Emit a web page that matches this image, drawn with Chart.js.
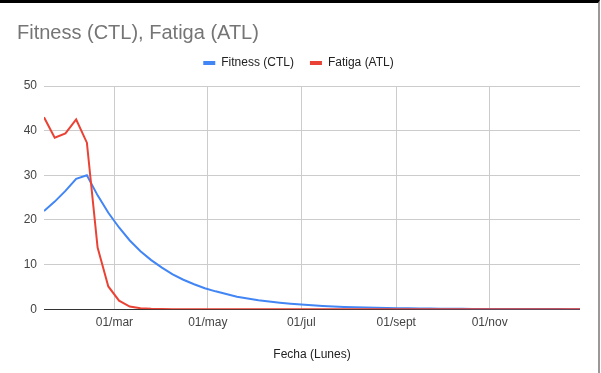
<!DOCTYPE html>
<html>
<head>
<meta charset="utf-8">
<script src="https://cdn.jsdelivr.net/npm/chart.js@4"></script>
<style>
  html, body { margin: 0; padding: 0; background: #fff; }
  #wrap { width: 598px; height: 370px; border-top: 3px solid #000; border-right: 2px solid #999; position: relative; }
</style>
</head>
<body>
<div id="wrap"><canvas id="pmcChart" width="598" height="370"></canvas></div>
<script>
// lunes de cada semana
const weeks = [
    '2024-01-15', '2024-01-22', '2024-01-29', '2024-02-05', '2024-02-12', '2024-02-19', '2024-02-26',
    '2024-03-04', '2024-03-11', '2024-03-18', '2024-03-25', '2024-04-01', '2024-04-08', '2024-04-15',
    '2024-04-22', '2024-04-29', '2024-05-06', '2024-05-13', '2024-05-20', '2024-05-27', '2024-06-03',
    '2024-06-10', '2024-06-17', '2024-06-24', '2024-07-01', '2024-07-08', '2024-07-15', '2024-07-22',
    '2024-07-29', '2024-08-05', '2024-08-12', '2024-08-19', '2024-08-26', '2024-09-02', '2024-09-09',
    '2024-09-16', '2024-09-23', '2024-09-30', '2024-10-07', '2024-10-14', '2024-10-21', '2024-10-28',
    '2024-11-04', '2024-11-11', '2024-11-18', '2024-11-25', '2024-12-02', '2024-12-09', '2024-12-16',
    '2024-12-23', '2024-12-30'
];

const fitness = [
    22.0, 24.1, 26.5, 29.2, 30.0, 25.5, 21.6, 18.3, 15.4, 13.0, 11.0, 9.3, 7.8, 6.6, 5.6, 4.7, 4.0,
    3.4, 2.8, 2.4, 2.0, 1.7, 1.45, 1.22, 1.03, 0.87, 0.73, 0.62, 0.52, 0.44, 0.37, 0.31, 0.26, 0.22,
    0.19, 0.16, 0.13, 0.11, 0.095, 0.08, 0.067, 0.057, 0.048, 0.04, 0.034, 0.029, 0.024, 0.02, 0.017,
    0.014, 0.012
];

const fatiga = [
    43.0, 38.4, 39.4, 42.5, 37.3, 13.8, 5.1, 1.9, 0.6, 0.2, 0.08, 0.03, 0.01, 0, 0, 0, 0,
    0, 0, 0, 0, 0, 0, 0, 0, 0, 0, 0, 0, 0, 0, 0, 0, 0,
    0, 0, 0, 0, 0, 0, 0, 0, 0, 0, 0, 0, 0, 0, 0,
    0, 0
];

const tickDates = ['2024-03-01', '2024-05-01', '2024-07-01', '2024-09-01', '2024-11-01'];
const tickLabels = ['01/mar', '01/may', '01/jul', '01/sept', '01/nov'];

const dayNum = d => (Date.parse(d) - Date.parse('2024-01-01')) / 86400000;
const xs = weeks.map(dayNum);
const tickDays = tickDates.map(dayNum);

Chart.defaults.font.family = 'Arial, "Liberation Sans", sans-serif';

// un poco de aire entre la leyenda y el área del gráfico
const legendGap = {
    id: 'legendGap',
    beforeInit(chart) {
        const fit = chart.legend.fit;
        chart.legend.fit = function () {
            fit.bind(chart.legend)();
            this.height += 7;
        };
    }
};

const ctx = document.getElementById('pmcChart').getContext('2d');

const chart = new Chart(ctx, {
    type: 'line',
    data: {
        datasets: [{
            label: 'Fitness (CTL)',
            data: xs.map((x, i) => ({ x: x, y: fitness[i] })),
            borderColor: '#4285f4',
            backgroundColor: '#4285f4',
            borderWidth: 2,
            pointRadius: 0,
            order: 1
        }, {
            label: 'Fatiga (ATL)',
            data: xs.map((x, i) => ({ x: x, y: fatiga[i] })),
            borderColor: '#ea4335',
            backgroundColor: '#ea4335',
            borderWidth: 2,
            pointRadius: 0,
            order: 0
        }]
    },
    plugins: [legendGap],
    options: {
        responsive: false,
        animation: false,
        layout: { padding: { left: 17, right: 18, top: 0, bottom: 11 } },
        plugins: {
            title: {
                display: true,
                text: 'Fitness (CTL), Fatiga (ATL)',
                align: 'start',
                color: '#757575',
                font: { size: 20, weight: 'normal' },
                padding: { top: 18, bottom: -4 }
            },
            legend: {
                labels: {
                    boxWidth: 12,
                    boxHeight: 4,
                    padding: 16,
                    color: '#222',
                    font: { size: 12 },
                    sort: (a, b) => a.datasetIndex - b.datasetIndex,
                    generateLabels: c => Chart.defaults.plugins.legend.labels.generateLabels(c)
                        .map(l => Object.assign(l, { lineWidth: 0 }))
                }
            },
            tooltip: { enabled: false }
        },
        scales: {
            x: {
                type: 'linear',
                min: xs[0],
                max: xs[xs.length - 1],
                afterBuildTicks: s => { s.ticks = tickDays.map(v => ({ value: v })); },
                ticks: {
                    color: '#444',
                    font: { size: 12 },
                    padding: 6,
                    maxRotation: 0,
                    callback: v => tickLabels[tickDays.indexOf(v)]
                },
                grid: { color: '#ccc', drawTicks: false },
                border: { display: false },
                title: {
                    display: true,
                    text: 'Fecha (Lunes)',
                    color: '#222',
                    font: { size: 12 },
                    padding: { top: 12, bottom: 0 }
                }
            },
            y: {
                min: 0,
                max: 50,
                afterFit: s => { s.width = 27; },
                ticks: { stepSize: 10, color: '#444', font: { size: 12 }, padding: 7 },
                grid: {
                    drawTicks: false,
                    color: c => c.tick && c.tick.value === 0 ? '#333' : '#ccc'
                },
                border: { display: false }
            }
        }
    }
});
</script>
</body>
</html>
